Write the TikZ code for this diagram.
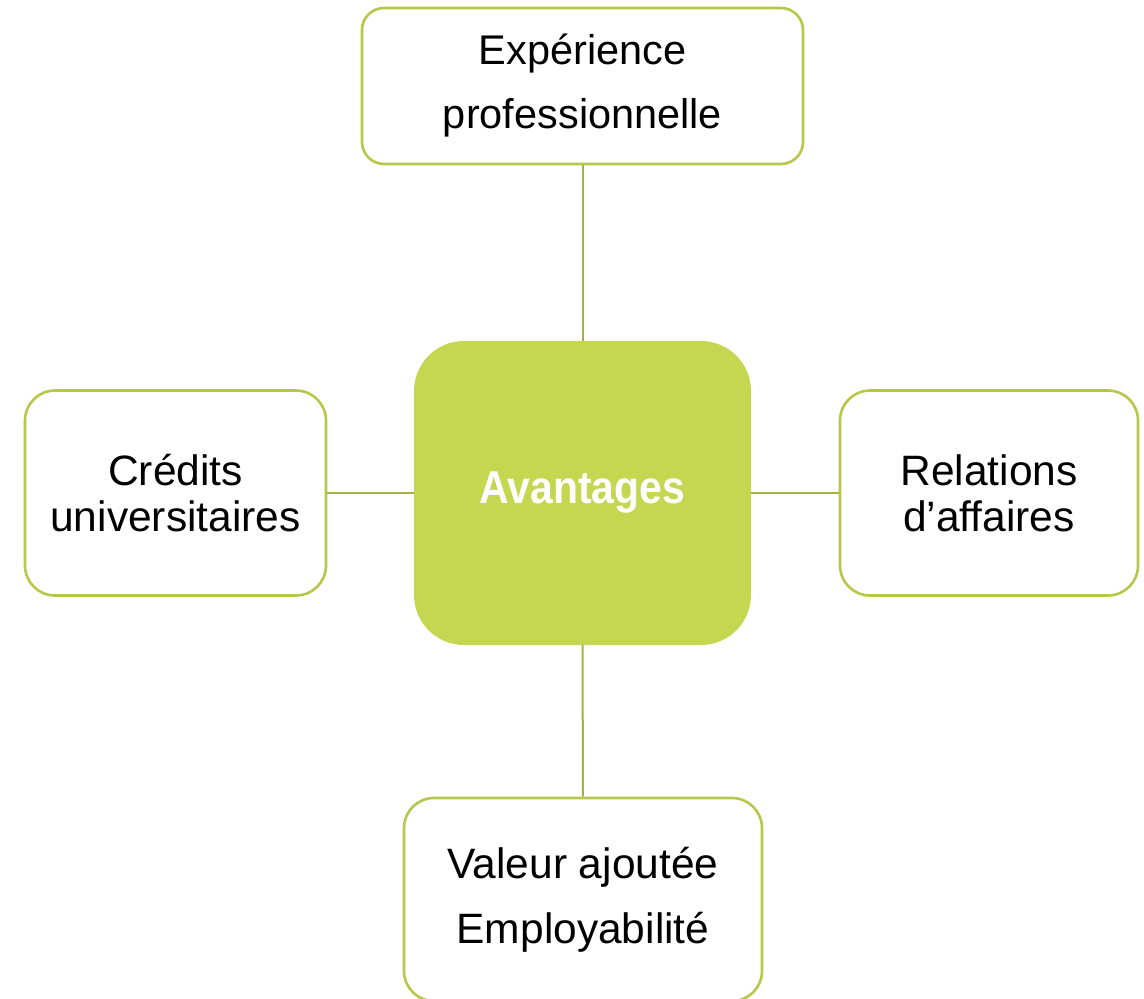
\documentclass[tikz,border=0pt]{standalone}
\usepackage{fontspec}
\setmainfont{Liberation Sans}
\definecolor{boxline}{RGB}{183,199,74}
\definecolor{conn}{RGB}{163,178,66}
\definecolor{centerfill}{RGB}{197,215,81}
\begin{document}
\begin{tikzpicture}[x=1pt,y=-1pt,
  leaf/.style={draw=boxline, line width=2.6pt, fill=white, rounded corners=#1, align=center, inner sep=0pt,
    font=\fontsize{42.5}{46}\selectfont},
  leaf/.default=30pt,
  hub/.style={fill=centerfill, rounded corners=50pt, inner sep=0pt, text=white,
    font=\fontsize{46}{50}\selectfont\bfseries},
  link/.style={draw=conn, line width=2pt}]
\clip (0,0) rectangle (1144,999);
\fill[white] (0,0) rectangle (1144,999);
\node[hub, minimum width=337pt, minimum height=304pt] (c) at (582.5,493) {\scalebox{0.89}[1]{Avantages}};
\node[leaf=22pt, minimum width=441pt, minimum height=156pt, font=\fontsize{41.5}{64}\selectfont] (t) at (582.5,86) {Expérience\\professionnelle};
\node[leaf, minimum width=301pt, minimum height=205pt] (l) at (175.5,493) {Crédits\\universitaires};
\node[leaf, minimum width=298pt, minimum height=205pt] (r) at (989,493) {Relations\\d’affaires};
\node[leaf, minimum width=358pt, minimum height=203pt, font=\fontsize{42.5}{65}\selectfont] (b) at (583,899.5) {Valeur ajoutée\\Employabilité};
\draw[link] (t.south) -- (c.north);
\draw[link] (c.south) -- (b.north);
\draw[link] (l.east) -- (c.west);
\draw[link] (c.east) -- (r.west);
\end{tikzpicture}
\end{document}
